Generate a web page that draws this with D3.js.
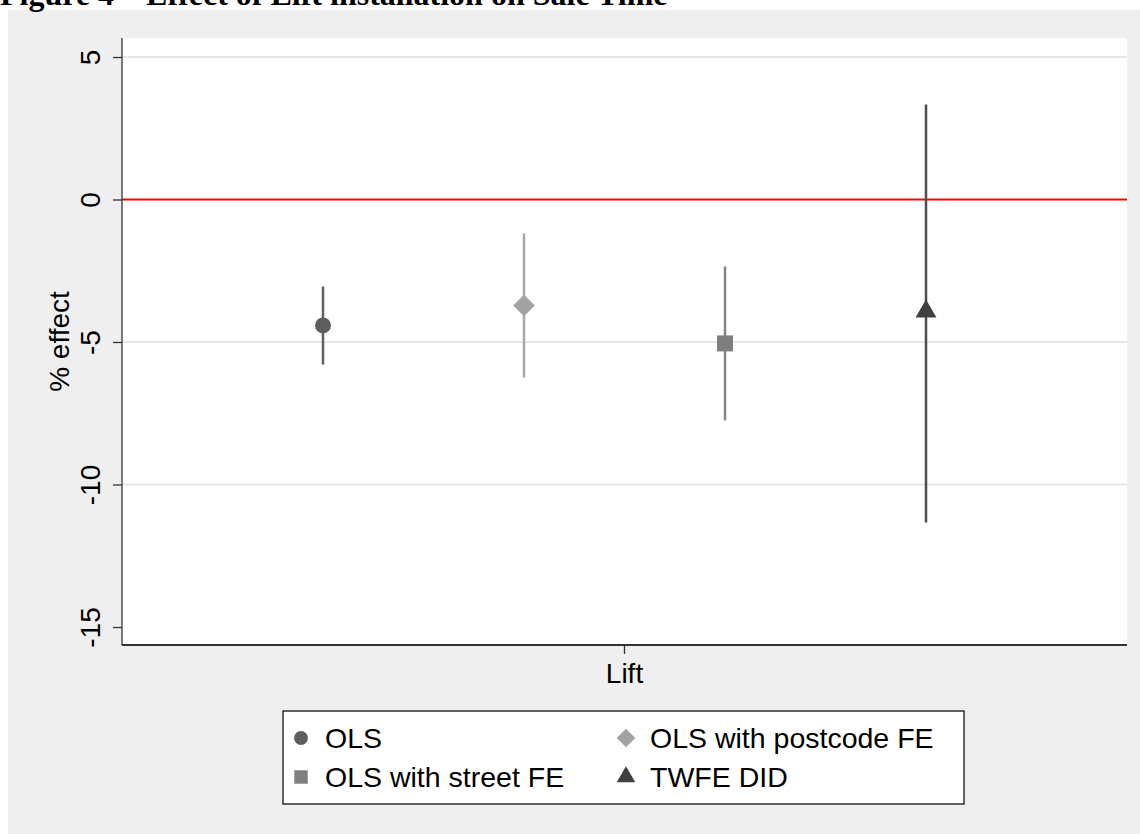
<!DOCTYPE html>
<html>
<head>
<meta charset="utf-8">
<script src="https://cdn.jsdelivr.net/npm/d3@7"></script>
<style>
  body { margin: 0; background: #ffffff; }
  svg { display: block; font-family: "Liberation Sans", Arial, sans-serif; }
</style>
</head>
<body>
<div id="chart"></div>
<script>
// estimates and 95% CIs
const series = ["OLS", "OLS with postcode FE", "OLS with street FE", "TWFE DID"];
const estimates = [-4.42, -3.72, -5.05, -3.93];
const lower = [-5.79, -6.25, -7.75, -11.33];
const upper = [-3.05, -1.19, -2.35, 3.33];
const markerShapes = ["circle", "diamond", "square", "triangle"];
const markerColors = ["#5e5e5e", "#a2a2a2", "#7f7f7f", "#404040"];
const lineColors = ["#606060", "#a8a8a8", "#858585", "#4e4e4e"];
const yTicks = [5, 0, -5, -10, -15];
const gridTicks = [5, -5, -10];
const xCategory = ["Lift"];

var W = 1140, H = 834;
var plot = { left: 122, right: 1127, top: 38, bottom: 645 };

var svg = d3.select("#chart").append("svg")
  .attr("width", W)
  .attr("height", H);

// page + graph region
svg.append("rect").attr("x", 8).attr("y", 10).attr("width", W - 8).attr("height", H - 10)
  .attr("fill", "#efefef");

// caption, cropped at the very top as in the source
svg.append("text")
  .attr("x", 0)
  .attr("y", 5)
  .style("font-family", "'Liberation Serif', 'Times New Roman', serif")
  .style("font-weight", "bold")
  .style("font-size", "32px")
  .text("Figure 4 \u2013 Effect of Lift installation on Sale Time");

svg.append("rect")
  .attr("x", plot.left).attr("y", plot.top)
  .attr("width", plot.right - plot.left).attr("height", plot.bottom - plot.top)
  .attr("fill", "#ffffff");

var yScale = d3.scaleLinear().domain([-15, 5]).range([627, 57]);
var xScale = d3.scalePoint().domain(series).range([plot.left, plot.right]).padding(1);
var xBand = d3.scaleBand().domain(xCategory).range([plot.left, plot.right]);

// grid
svg.append("g").selectAll("line")
  .data(gridTicks)
  .enter().append("line")
  .attr("x1", plot.left).attr("x2", plot.right)
  .attr("y1", (d) => yScale(d)).attr("y2", (d) => yScale(d))
  .attr("stroke", "#e6e6e6")
  .attr("stroke-width", 2);

// reference line at zero
svg.append("line")
  .attr("x1", plot.left).attr("x2", plot.right)
  .attr("y1", yScale(0)).attr("y2", yScale(0))
  .attr("stroke", "#ff0000")
  .attr("stroke-width", 2);

// y axis (plain hyphen for negatives, like Stata)
var yAxis = svg.append("g")
  .attr("transform", "translate(" + plot.left + ",0)")
  .call(d3.axisLeft(yScale).tickValues(yTicks).tickFormat((d) => String(d)).tickSize(9).tickPadding(14));
yAxis.select(".domain").remove();
yAxis.selectAll(".tick line").attr("stroke", "#333").attr("stroke-width", 1.3);
yAxis.selectAll(".tick text")
  .attr("transform", "rotate(-90)")
  .attr("x", 0)
  .attr("y", -22)
  .attr("dy", 0)
  .style("text-anchor", "middle")
  .style("font-size", "28px")
  .attr("fill", "#000");
svg.append("line")
  .attr("x1", plot.left).attr("x2", plot.left)
  .attr("y1", plot.top).attr("y2", plot.bottom)
  .attr("stroke", "#333").attr("stroke-width", 1.3);

// x axis
var xAxis = svg.append("g")
  .attr("transform", "translate(0," + plot.bottom + ")")
  .call(d3.axisBottom(xBand).tickSize(9).tickPadding(9));
xAxis.select(".domain").remove();
xAxis.selectAll(".tick line").attr("stroke", "#333").attr("stroke-width", 1.3);
xAxis.selectAll(".tick text")
  .style("font-size", "28px")
  .attr("fill", "#000");
svg.append("line")
  .attr("x1", plot.left).attr("x2", plot.right)
  .attr("y1", plot.bottom).attr("y2", plot.bottom)
  .attr("stroke", "#333").attr("stroke-width", 1.8);

// y title
svg.append("text")
  .attr("transform", "translate(69," + ((plot.top + plot.bottom) / 2) + ") rotate(-90)")
  .style("text-anchor", "middle")
  .style("font-size", "28px")
  .text("% effect");

function markerPath(shape, size) {
  var sym = {
    circle: d3.symbolCircle,
    diamond: d3.symbolDiamond2,
    square: d3.symbolSquare,
    triangle: d3.symbolTriangle,
  }[shape];
  return d3.symbol().type(sym).size(size)();
}
var markerSizes = { circle: 200, diamond: 300, square: 256, triangle: 190 };
var legendSizes = { circle: 150, diamond: 220, square: 180, triangle: 150 };

// confidence intervals
var data = series.map((s, i) => ({
  name: s, est: estimates[i], lo: lower[i], hi: upper[i],
  shape: markerShapes[i], color: markerColors[i], lineColor: lineColors[i],
}));

svg.append("g").selectAll("line")
  .data(data)
  .enter().append("line")
  .attr("x1", (d) => xScale(d.name)).attr("x2", (d) => xScale(d.name))
  .attr("y1", (d) => yScale(d.hi)).attr("y2", (d) => yScale(d.lo))
  .attr("stroke", (d) => d.lineColor)
  .attr("stroke-width", 2.5);

svg.append("g").selectAll("path")
  .data(data)
  .enter().append("path")
  .attr("transform", (d) => "translate(" + xScale(d.name) + "," + yScale(d.est) + ")")
  .attr("d", (d) => markerPath(d.shape, markerSizes[d.shape]))
  .attr("fill", (d) => d.color);

// legend
var legend = svg.append("g").attr("transform", "translate(283,711)");
legend.append("rect")
  .attr("width", 681).attr("height", 93)
  .attr("fill", "#ffffff")
  .attr("stroke", "#111").attr("stroke-width", 1.3);

var items = legend.selectAll("g.item")
  .data(data)
  .enter().append("g")
  .attr("class", "item")
  .attr("transform", (d, i) => "translate(" + (i % 2 === 0 ? 18 : 343) + "," + (i < 2 ? 27 : 66) + ")");
items.append("path")
  .attr("d", (d) => markerPath(d.shape, legendSizes[d.shape]))
  .attr("fill", (d) => d.color);
items.append("text")
  .attr("x", 24)
  .attr("y", 10)
  .style("font-size", "28.5px")
  .text((d) => d.name);
</script>
</body>
</html>
